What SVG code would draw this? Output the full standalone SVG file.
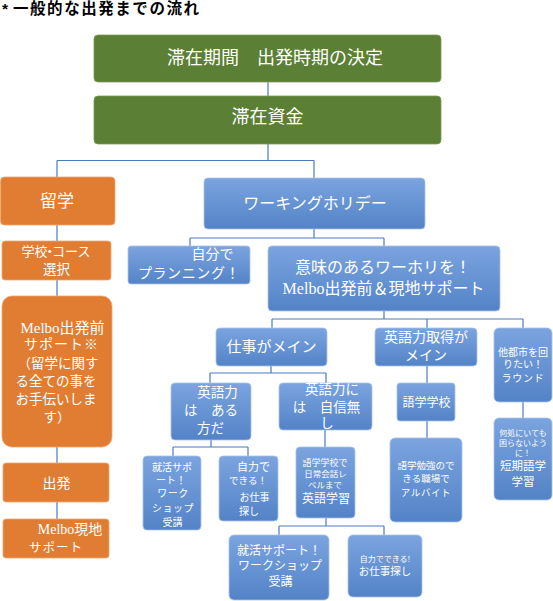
<svg xmlns="http://www.w3.org/2000/svg" width="553" height="601" viewBox="0 0 553 601">
<defs>
<linearGradient id="bl" x1="0" y1="0" x2="0" y2="1">
<stop offset="0" stop-color="#7BA4DF"/>
<stop offset="1" stop-color="#5383C7"/>
</linearGradient>
<style>
.g{fill:#5B7F34;stroke:#7D9A5A;stroke-width:0.8}
.o{fill:#E07D32;stroke:#F2A66C;stroke-width:0.8}
.b{fill:url(#bl);stroke:#A9C3EA;stroke-width:0.8}
text{fill:#fff;font-family:"Liberation Serif","Noto Sans CJK JP",serif;text-anchor:middle}
.t{fill:#000;font-family:"Liberation Sans","Noto Sans CJK JP",sans-serif;font-weight:bold;text-anchor:start}
#conn path{fill:none;stroke:#4A7BBE;stroke-width:1.2}
</style>
</defs>
<text class="t" y="14" font-size="15.5"><tspan x="2">*</tspan><tspan x="13" textLength="186" lengthAdjust="spacing">一般的な出発までの流れ</tspan></text>
<g id="conn">
<path d="M268,82V96M268,144V160.5M57,160.5H314M57,160.5V177M314,160.5V178"/>
<path d="M314,229V238M190,238H384M190,238V246M384,238V246"/>
<path d="M384,311V319M272,319H523M272,319V328M427,319V328M523,319V328"/>
<path d="M271,366V373M210,373H326M210,373V383M326,373V383"/>
<path d="M211,440V447M173,447H248M173,447V456M248,447V456"/>
<path d="M325,430V447M427,366V383M427,421V438M523,402V418"/>
<path d="M326,518V526M279,526H384M279,526V535M384,526V535"/>
<path d="M57,225V241M57,280V296M57,447V463M57,502V519"/>
</g>
<g id="n1"><rect class="g" x="94" y="35" width="347" height="47" rx="4"/><text x="275" y="64" font-size="18">滞在期間　出発時期の決定</text></g>
<g id="n2"><rect class="g" x="94" y="96" width="347" height="48" rx="4"/><text x="267.5" y="123" font-size="18">滞在資金</text></g>
<g id="n3"><rect class="o" x="0.5" y="177" width="114.5" height="48" rx="4"/><text x="57" y="206.5" font-size="17">留学</text></g>
<g id="n4"><rect class="b" x="204" y="178" width="221" height="51" rx="4"/><text x="315" y="209" font-size="16">ワーキングホリデー</text></g>
<g id="n5"><rect class="b" x="128" y="246" width="122" height="38" rx="3"/><text x="212.5" y="259" font-size="14">自分で</text><text x="189" y="278" font-size="14" letter-spacing="0.6">プランニング！</text></g>
<g id="n6"><rect class="b" x="268" y="246" width="232" height="65" rx="4"/><text x="383" y="272.5" font-size="16">意味のあるワーホリを！</text><text x="383.5" y="293.5" font-size="16">Melbo出発前＆現地サポート</text></g>
<g id="n7"><rect class="b" x="216" y="328" width="111" height="38" rx="4"/><text x="271.5" y="352" font-size="15">仕事がメイン</text></g>
<g id="n8"><rect class="b" x="375" y="328" width="102" height="38" rx="4"/><text x="426" y="342" font-size="14">英語力取得が</text><text x="426" y="360" font-size="14">メイン</text></g>
<g id="n9"><rect class="b" x="494" y="328" width="58" height="74" rx="5"/><text x="523" y="355.5" font-size="10">他都市を回</text><text x="523" y="367.5" font-size="10">りたい！</text><text x="523" y="381.5" font-size="10" letter-spacing="0.8">ラウンド</text></g>
<g id="n10"><rect class="b" x="494" y="418" width="58" height="82" rx="5"/><text x="523" y="436" font-size="8">何処にいても</text><text x="523" y="446" font-size="8">困らないよう</text><text x="523" y="456" font-size="8">に！</text><text x="523" y="470" font-size="11.5">短期語学</text><text x="523" y="486" font-size="11.5">学習</text></g>
<g id="n11"><rect class="b" x="397" y="383" width="58" height="38" rx="3"/><text x="426.5" y="406.5" font-size="12">語学学校</text></g>
<g id="n12"><rect class="b" x="390" y="438" width="72" height="84" rx="5"/><text x="426" y="468.5" font-size="9.5">語学勉強ので</text><text x="426" y="481.5" font-size="9.5">きる職場で</text><text x="426" y="495.5" font-size="9.5" letter-spacing="0.6">アルバイト</text></g>
<g id="n13"><rect class="b" x="171" y="383" width="80" height="57" rx="4"/><text x="217.5" y="397" font-size="13.5">英語力</text><text x="211" y="415" font-size="13.5">は　ある</text><text x="210.5" y="433" font-size="13.5">方だ</text></g>
<g id="n14"><rect class="b" x="279" y="383" width="93" height="47" rx="4"/><text x="332" y="394" font-size="13.5">英語力に</text><text x="326.5" y="412" font-size="13.5">は　自信無</text><text x="327" y="428" font-size="13.5">し</text></g>
<g id="n15"><rect class="b" x="143" y="456" width="58" height="74" rx="4"/><text x="172" y="470.5" font-size="10">就活サポ</text><text x="171" y="483.5" font-size="10">ート！</text><text x="173" y="496.5" font-size="10" letter-spacing="0.5">ワーク</text><text x="173" y="511.5" font-size="10" letter-spacing="0.5">ショップ</text><text x="172.5" y="525.5" font-size="10">受講</text></g>
<g id="n16"><rect class="b" x="219" y="456" width="59" height="65" rx="4"/><text x="253.5" y="471" font-size="11">自力で</text><text x="248" y="484" font-size="9.5">できる！</text><text x="254.5" y="501" font-size="10">お仕事</text><text x="249" y="515" font-size="10">探し</text></g>
<g id="n17"><rect class="b" x="296" y="447" width="59" height="71" rx="4"/><text x="325" y="466" font-size="9">語学学校で</text><text x="325.5" y="476.5" font-size="8.5">日常会話レ</text><text x="325" y="487.5" font-size="8.5">ベルまで</text><text x="326" y="503" font-size="12">英語学習</text></g>
<g id="n18"><rect class="b" x="229" y="535" width="100" height="65" rx="5"/><text x="279" y="555" font-size="12">就活サポート！</text><text x="280" y="570" font-size="12">ワークショップ</text><text x="280.5" y="586" font-size="12">受講</text></g>
<g id="n19"><rect class="b" x="348" y="535" width="74" height="62" rx="5"/><text x="385" y="562" font-size="8">自力でできる!</text><text x="385" y="575" font-size="10.5">お仕事探し</text></g>
<g id="n20"><rect class="o" x="2" y="241" width="109" height="39" rx="3"/><text x="56" y="256" font-size="13">学校•コース</text><text x="56.5" y="274" font-size="13.5">選択</text></g>
<g id="n21"><rect class="o" x="2" y="296" width="110" height="151" rx="10"/><text x="62.5" y="333" font-size="15">Melbo出発前</text><text x="61.5" y="348.5" font-size="14" letter-spacing="1">サポート※</text><text x="58" y="368" font-size="13.5">（留学に関す</text><text x="56" y="386" font-size="13.5">る全ての事を</text><text x="56" y="403.5" font-size="13.5">お手伝いしま</text><text x="57" y="422" font-size="13.5">す）</text></g>
<g id="n22"><rect class="o" x="3" y="463" width="106" height="39" rx="3"/><text x="56.5" y="488" font-size="14">出発</text></g>
<g id="n23"><rect class="o" x="3" y="519" width="106" height="39" rx="3"/><text x="70" y="534" font-size="14">Melbo現地</text><text x="56" y="552" font-size="12.5" letter-spacing="1">サポート</text></g>
</svg>
